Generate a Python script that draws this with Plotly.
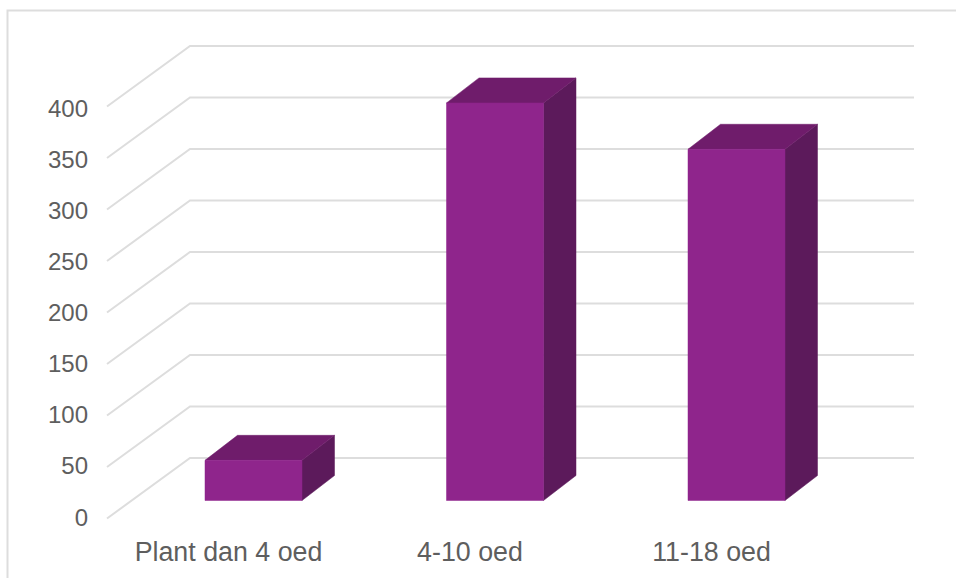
import plotly.graph_objects as go

categories = ["Plant dan 4 oed", "4-10 oed", "11-18 oed"]
values = [39, 386, 341]
ticks = [0, 50, 100, 150, 200, 250, 300, 350, 400]

W, H = 956, 578
PX_CAT = 241.5      # pixels per category
PX_VAL = 1.03       # pixels per value unit
X0, Y0 = 253.5, 500.5  # pixel position of category 0 centre, value 0 (bar front)
HALF = 48.5 / PX_CAT
DX, DY = 32.5 / PX_CAT, 25 / PX_VAL   # bar depth
FRONT = "#8F258C"
TOP = "#6F1C6B"
SIDE = "#5C1A5B"
GRID = "#DDDDDD"
TEXT = "#5E5E5E"
FONT = "Liberation Sans"


def cx(px):
    return (px - X0) / PX_CAT


def vy(px):
    return (Y0 - px) / PX_VAL


fig = go.Figure()

# chart frame
fig.add_trace(go.Scatter(x=[cx(7.5), cx(7.5), cx(W + 2)], y=[vy(H + 2), vy(10.5), vy(10.5)],
                         mode="lines", line=dict(color=GRID, width=2), hoverinfo="skip"))

# walls
for t in ticks:
    fig.add_trace(go.Scatter(
        x=[cx(107), cx(190), cx(914)],
        y=[t + vy(518.5), t + vy(458), t + vy(458)],
        mode="lines", line=dict(color=GRID, width=2), hoverinfo="skip"))

# bars
for i, v in enumerate(values):
    l, r = i - HALF, i + HALF
    fig.add_trace(go.Scatter(x=[r, r + DX, r + DX, r, r], y=[0, DY, v + DY, v, 0],
                             mode="lines", fill="toself", fillcolor=SIDE,
                             line=dict(color=SIDE, width=0.5), hoverinfo="skip"))
    fig.add_trace(go.Scatter(x=[l, l + DX, r + DX, r, l], y=[v, v + DY, v + DY, v, v],
                             mode="lines", fill="toself", fillcolor=TOP,
                             line=dict(color=TOP, width=0.5), hoverinfo="skip"))
    fig.add_trace(go.Scatter(x=[l, r, r, l, l], y=[0, 0, v, v, 0],
                             mode="lines", fill="toself", fillcolor=FRONT,
                             line=dict(color=FRONT, width=0.5), hoverinfo="skip"))

# value labels
fig.add_trace(go.Scatter(
    x=[cx(88)] * len(ticks), y=[t * 51.1 / 50 / PX_VAL + vy(519.5) for t in ticks],
    text=[str(t) for t in ticks], mode="text", textposition="middle left",
    textfont=dict(family=FONT, size=24, color=TEXT), hoverinfo="skip"))

# category labels
fig.add_trace(go.Scatter(
    x=[i + cx(228.5) for i in range(len(categories))], y=[vy(554)] * len(categories),
    text=categories, mode="text", textposition="middle center",
    textfont=dict(family=FONT, size=26.8, color=TEXT), hoverinfo="skip"))

fig.update_layout(
    width=W, height=H, margin=dict(l=0, r=0, t=0, b=0),
    showlegend=False, paper_bgcolor="white", plot_bgcolor="white",
    xaxis=dict(range=[cx(0), cx(W)], visible=False, fixedrange=True),
    yaxis=dict(range=[vy(H), vy(0)], visible=False, fixedrange=True),
)
fig.write_html("out.html", config={"displayModeBar": False},
               post_script="document.body.style.margin='0';document.body.style.overflow='hidden';")
